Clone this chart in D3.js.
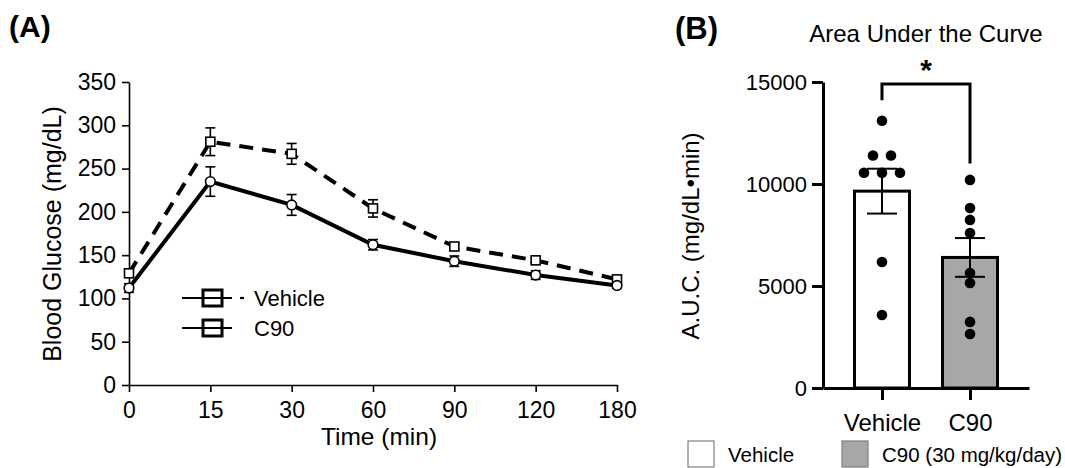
<!DOCTYPE html>
<html>
<head>
    <title>Glucose Tolerance</title>
    <script src="https://cdn.jsdelivr.net/npm/d3@7"></script>
    <style>
        body { margin: 0; background: #fff; }
        text { font-family: "Liberation Sans", Arial, sans-serif; fill: #000; }
    </style>
</head>
<body>
<svg width="1065" height="468"></svg>

<script>
    const svg = d3.select("svg");

    // ---- data, panel A ----
    const times = ["0", "15", "30", "60", "90", "120", "180"];
    const vehicleMean = [129, 281, 267, 204, 160, 144, 122];
    const vehicleSem = [4, 16, 12, 10, 4, 3, 3];
    const c90Mean = [112, 235, 208, 162, 143, 127, 115];
    const c90Sem = [5, 17, 12, 6, 6, 5, 3];
    const glucoseTicks = [0, 50, 100, 150, 200, 250, 300, 350];

    // ---- data, panel B ----
    const groups = ["Vehicle", "C90"];
    const aucVehicle = [13100, 11400, 11400, 10550, 10550, 10550, 6180, 3580];
    const aucC90 = [10200, 8820, 8240, 7600, 5640, 5150, 3240, 2650];
    const aucMean = [9650, 6400];
    const aucSem = [1100, 950];
    const aucTicks = [0, 5000, 10000, 15000];

    // ================= Panel A =================
    const xA = d3.scalePoint().domain(times).range([129, 617]);
    const yA = d3.scaleLinear().domain([0, 350]).range([385, 82]);

    const gA = svg.append("g");

    const yAxisA = gA.append("g")
        .attr("transform", "translate(129,0)")
        .call(d3.axisLeft(yA).tickValues(glucoseTicks).tickSize(7).tickSizeOuter(0).tickPadding(6));
    const xAxisA = gA.append("g")
        .attr("transform", "translate(0,385)")
        .call(d3.axisBottom(xA).tickSize(7).tickSizeOuter(0).tickPadding(10));
    [yAxisA, xAxisA].forEach(ax => {
        ax.selectAll("path, line").attr("stroke", "#000").attr("stroke-width", 1.6);
        ax.selectAll("text").attr("font-size", "23px")
            .attr("font-family", "'Liberation Sans', Arial, sans-serif").attr("fill", "#000");
    });

    gA.append("text")
        .attr("transform", "translate(61,234) rotate(-90)")
        .attr("text-anchor", "middle")
        .attr("font-size", "25px")
        .text("Blood Glucose (mg/dL)");

    gA.append("text")
        .attr("x", 379).attr("y", 445)
        .attr("text-anchor", "middle")
        .attr("font-size", "24.5px")
        .text("Time (min)");

    const seriesA = [
        { name: "Vehicle", mean: vehicleMean, sem: vehicleSem, dash: "14,9", marker: "square" },
        { name: "C90", mean: c90Mean, sem: c90Sem, dash: null, marker: "circle" }
    ];

    const line = d3.line().x((d, i) => xA(times[i])).y(d => yA(d));

    // error bars
    seriesA.forEach(s => {
        const eb = gA.append("g").attr("stroke", "#000").attr("stroke-width", 1.6);
        s.mean.forEach((m, i) => {
            const x = xA(times[i]);
            eb.append("line").attr("x1", x).attr("x2", x)
                .attr("y1", yA(m - s.sem[i])).attr("y2", yA(m + s.sem[i]));
            [m - s.sem[i], m + s.sem[i]].forEach(v => {
                eb.append("line").attr("x1", x - 5).attr("x2", x + 5)
                    .attr("y1", yA(v)).attr("y2", yA(v));
            });
        });
    });

    // lines
    seriesA.forEach(s => {
        gA.append("path")
            .datum(s.mean)
            .attr("d", line)
            .attr("fill", "none")
            .attr("stroke", "#000")
            .attr("stroke-width", 4)
            .attr("stroke-dasharray", s.dash);
    });

    // markers
    seriesA.forEach(s => {
        const mk = gA.append("g").attr("fill", "#fff").attr("stroke", "#000").attr("stroke-width", 1.6);
        s.mean.forEach((m, i) => {
            if (s.marker === "square") {
                mk.append("rect").attr("x", xA(times[i]) - 4.5).attr("y", yA(m) - 4.5)
                    .attr("width", 9).attr("height", 9);
            } else {
                mk.append("circle").attr("cx", xA(times[i])).attr("cy", yA(m)).attr("r", 4.8);
            }
        });
    });

    // legend A
    const legA = gA.append("g");
    [["Vehicle", 298, true], ["C90", 328, false]].forEach(([label, y, dotAfter]) => {
        legA.append("line").attr("x1", 182).attr("x2", 232).attr("y1", y).attr("y2", y)
            .attr("stroke", "#000").attr("stroke-width", 2.2);
        legA.append("rect").attr("x", 203).attr("y", y - 8).attr("width", 19).attr("height", 16)
            .attr("fill", "none").attr("stroke", "#000").attr("stroke-width", 3);
        if (dotAfter) {
            legA.append("line").attr("x1", 240).attr("x2", 244).attr("y1", y).attr("y2", y)
                .attr("stroke", "#000").attr("stroke-width", 2.2);
        }
        legA.append("text").attr("x", 254).attr("y", y + 8)
            .attr("font-size", "22px").text(label);
    });

    gA.append("text")
        .attr("x", 9).attr("y", 37)
        .attr("font-size", "30px").attr("font-weight", "bold")
        .text("(A)");

    // ================= Panel B =================
    const xB = d3.scalePoint().domain(groups).range([823, 1029]).padding(0.67);
    const yB = d3.scaleLinear().domain([0, 15000]).range([388, 82]);
    const barW = 55;

    const gB = svg.append("g");

    // bars
    gB.selectAll(".bar")
        .data(groups)
        .enter().append("rect")
        .attr("class", "bar")
        .attr("x", d => xB(d) - barW / 2)
        .attr("y", (d, i) => yB(aucMean[i]))
        .attr("width", barW)
        .attr("height", (d, i) => yB(0) - yB(aucMean[i]))
        .attr("fill", (d, i) => i === 0 ? "#fff" : "#a7a7a9")
        .attr("stroke", "#000")
        .attr("stroke-width", 3);

    // error bars
    groups.forEach((g, i) => {
        const x = xB(g);
        const eb = gB.append("g").attr("stroke", "#000").attr("stroke-width", 2);
        eb.append("line").attr("x1", x).attr("x2", x)
            .attr("y1", yB(aucMean[i] - aucSem[i])).attr("y2", yB(aucMean[i] + aucSem[i]));
        [aucMean[i] - aucSem[i], aucMean[i] + aucSem[i]].forEach(v => {
            eb.append("line").attr("x1", x - 15).attr("x2", x + 15)
                .attr("y1", yB(v)).attr("y2", yB(v));
        });
    });

    // points, spread sideways when values repeat
    [aucVehicle, aucC90].forEach((vals, gi) => {
        const cx = xB(groups[gi]);
        const counts = d3.rollup(vals, v => v.length, v => v);
        const seen = new Map();
        vals.forEach(v => {
            const n = counts.get(v);
            const k = seen.get(v) || 0;
            seen.set(v, k + 1);
            const off = (k - (n - 1) / 2) * 18;
            gB.append("circle")
                .attr("cx", cx + off)
                .attr("cy", yB(v))
                .attr("r", 5.3)
                .attr("fill", "#000");
        });
    });

    // axes
    const yAxisB = gB.append("g")
        .attr("transform", "translate(823,0)")
        .call(d3.axisLeft(yB).tickValues(aucTicks).tickFormat(d3.format("d"))
            .tickSize(11).tickSizeOuter(0).tickPadding(5));
    const xAxisB = gB.append("g")
        .attr("transform", "translate(0,388)")
        .call(d3.axisBottom(xB).tickSize(12).tickSizeOuter(0).tickPadding(9));
    yAxisB.selectAll("text").attr("font-size", "22px");
    xAxisB.selectAll("text").attr("font-size", "24px").attr("dy", "0.9em");
    [yAxisB, xAxisB].forEach(ax => {
        ax.selectAll("path, line").attr("stroke", "#000").attr("stroke-width", 3);
        ax.selectAll("text").attr("font-family", "'Liberation Sans', Arial, sans-serif").attr("fill", "#000");
    });

    gB.append("text")
        .attr("transform", "translate(699,236) rotate(-90)")
        .attr("text-anchor", "middle")
        .attr("font-size", "24px")
        .text("A.U.C. (mg/dL\u2022min)");

    gB.append("text")
        .attr("x", 926).attr("y", 42)
        .attr("text-anchor", "middle")
        .attr("font-size", "24px")
        .text("Area Under the Curve");

    gB.append("text")
        .attr("x", 675).attr("y", 39)
        .attr("font-size", "31px").attr("font-weight", "bold")
        .text("(B)");

    // significance bracket
    const bx1 = xB("Vehicle"), bx2 = xB("C90");
    gB.append("path")
        .attr("d", `M${bx1},${yB(14100)} V${yB(14900)} H${bx2} V${yB(11000)}`)
        .attr("fill", "none").attr("stroke", "#000").attr("stroke-width", 3);
    gB.append("text")
        .attr("x", (bx1 + bx2) / 2).attr("y", 80)
        .attr("text-anchor", "middle")
        .attr("font-size", "30px").attr("font-weight", "bold")
        .text("*");

    // legend B
    const legB = [
        { label: "Vehicle", fill: "#fff", x: 688 },
        { label: "C90 (30 mg/kg/day)", fill: "#a7a7a9", x: 842 }
    ];
    legB.forEach(d => {
        gB.append("rect").attr("x", d.x).attr("y", 441).attr("width", 26).attr("height", 26)
            .attr("fill", d.fill).attr("stroke", "#7f7f7f").attr("stroke-width", 1.2);
        gB.append("text").attr("x", d.x + 40).attr("y", 462)
            .attr("font-size", "20.5px").text(d.label);
    });
</script>
</body>
</html>
